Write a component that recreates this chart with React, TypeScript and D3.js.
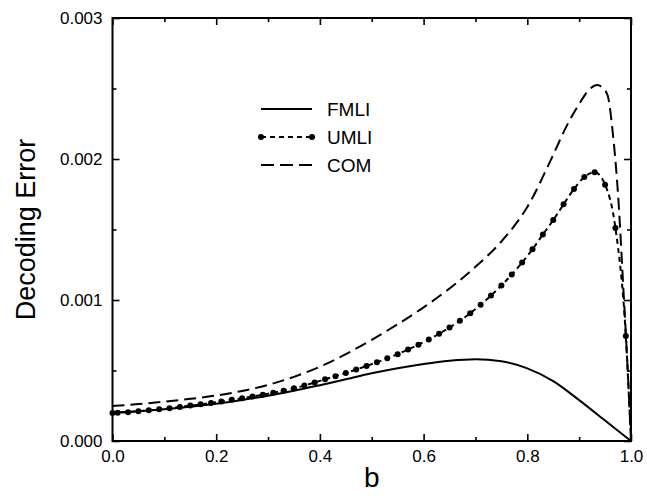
import React, { useEffect, useRef } from 'react';
import * as d3 from 'd3';

// values
const fmliB = [0, 0.05, 0.1, 0.15, 0.2, 0.25, 0.3, 0.35, 0.4, 0.45, 0.5, 0.55, 0.6, 0.65, 0.7, 0.75, 0.8, 0.85, 0.9, 0.95, 1.0];
const fmliErr = [0.000200, 0.000211, 0.000225, 0.000243, 0.000265, 0.000291, 0.000321, 0.000356, 0.000396, 0.000438, 0.000480, 0.000516, 0.000546, 0.000569, 0.000580, 0.000565, 0.000515, 0.000425, 0.000290, 0.000145, 0];

const umliB = [0, 0.01, 0.03, 0.05, 0.07, 0.09, 0.11, 0.13, 0.15, 0.17, 0.19, 0.21, 0.23, 0.25, 0.27, 0.29, 0.31, 0.33, 0.35, 0.37, 0.39, 0.41, 0.43, 0.45, 0.47, 0.49, 0.51, 0.53, 0.55, 0.57, 0.59, 0.61, 0.63, 0.65, 0.67, 0.69, 0.71, 0.73, 0.75, 0.77, 0.79, 0.81, 0.83, 0.85, 0.87, 0.89, 0.91, 0.93, 0.95, 0.97, 0.99, 1.0];
const umliErr = [0.000198, 0.000200, 0.000204, 0.000211, 0.000218, 0.000225, 0.000233, 0.000242, 0.000251, 0.000260, 0.000270, 0.000281, 0.000292, 0.000303, 0.000315, 0.000328, 0.000342, 0.000357, 0.000374, 0.000393, 0.000415, 0.000438, 0.000460, 0.000483, 0.000507, 0.000532, 0.000558, 0.000586, 0.000616, 0.000649, 0.000683, 0.000719, 0.000760, 0.000805, 0.000853, 0.000906, 0.000966, 0.001032, 0.001102, 0.001180, 0.001266, 0.001360, 0.001464, 0.001567, 0.001679, 0.001787, 0.001872, 0.001906, 0.001818, 0.001510, 0.000745, 0];

const comB = [0, 0.05, 0.1, 0.15, 0.2, 0.25, 0.3, 0.35, 0.4, 0.45, 0.5, 0.55, 0.6, 0.65, 0.7, 0.75, 0.8, 0.85, 0.875, 0.9, 0.92, 0.935, 0.945, 0.955, 0.965, 0.975, 0.985, 0.993, 1.0];
const comErr = [0.000248, 0.000262, 0.000279, 0.000299, 0.000323, 0.000355, 0.000398, 0.000455, 0.000527, 0.000616, 0.000718, 0.000828, 0.000948, 0.001082, 0.001235, 0.001415, 0.001660, 0.002030, 0.002228, 0.002390, 0.002495, 0.002525, 0.002505, 0.002450, 0.002180, 0.001750, 0.001100, 0.000550, 0];

const xMajor = [0, 0.2, 0.4, 0.6, 0.8, 1.0];
const xMinor = [0.1, 0.3, 0.5, 0.7, 0.9];
const yMajor = [0, 0.001, 0.002, 0.003];
const yMinor = [0.0005, 0.0015, 0.0025];

const legendNames = ['FMLI', 'UMLI', 'COM'];

const W = 647;
const H = 496;
const margin = { left: 112.5, right: 16, top: 18, bottom: 55 };
const FONT = '"Liberation Sans", Arial, Helvetica, sans-serif';

const App = () => {
  const svgRef = useRef(null);

  useEffect(() => {
    const svg = d3.select(svgRef.current);
    svg.selectAll('*').remove();

    const x = d3.scaleLinear().domain([0, 1]).range([margin.left, W - margin.right]);
    const y = d3.scaleLinear().domain([0, 0.003]).range([H - margin.bottom, margin.top]);
    const [x0, x1] = x.range();
    const [y0, y1] = y.range();

    const styleAxis = (g) => {
      g.select('.domain').remove();
      g.selectAll('line').attr('stroke', '#000').attr('stroke-width', 1.6);
      g.selectAll('text').attr('font-family', FONT).attr('font-size', 17).attr('fill', '#000');
    };

    // bottom
    svg.append('g').attr('transform', `translate(0,${y0})`)
      .call(d3.axisBottom(x).tickValues(xMajor).tickSize(-7).tickPadding(9).tickFormat(d3.format('.1f')))
      .call(styleAxis);
    svg.append('g').attr('transform', `translate(0,${y0})`)
      .call(d3.axisBottom(x).tickValues(xMinor).tickSize(-4).tickFormat(() => ''))
      .call(styleAxis);
    // top
    svg.append('g').attr('transform', `translate(0,${y1})`)
      .call(d3.axisTop(x).tickValues(xMajor).tickSize(-7).tickFormat(() => ''))
      .call(styleAxis);
    svg.append('g').attr('transform', `translate(0,${y1})`)
      .call(d3.axisTop(x).tickValues(xMinor).tickSize(-4).tickFormat(() => ''))
      .call(styleAxis);
    // left
    svg.append('g').attr('transform', `translate(${x0},0)`)
      .call(d3.axisLeft(y).tickValues(yMajor).tickSize(-7).tickPadding(10).tickFormat(d3.format('.3f')))
      .call(styleAxis);
    svg.append('g').attr('transform', `translate(${x0},0)`)
      .call(d3.axisLeft(y).tickValues(yMinor).tickSize(-4).tickFormat(() => ''))
      .call(styleAxis);
    // right
    svg.append('g').attr('transform', `translate(${x1},0)`)
      .call(d3.axisRight(y).tickValues(yMajor).tickSize(-7).tickFormat(() => ''))
      .call(styleAxis);
    svg.append('g').attr('transform', `translate(${x1},0)`)
      .call(d3.axisRight(y).tickValues(yMinor).tickSize(-4).tickFormat(() => ''))
      .call(styleAxis);

    // frame
    svg.append('rect')
      .attr('x', x0).attr('y', y1)
      .attr('width', x1 - x0).attr('height', y0 - y1)
      .attr('fill', 'none').attr('stroke', '#000').attr('stroke-width', 2);

    const line = d3.line()
      .x(d => x(d[0]))
      .y(d => y(d[1]))
      .curve(d3.curveMonotoneX);

    const fmli = fmliB.map((b, i) => [b, fmliErr[i]]);
    const umli = umliB.map((b, i) => [b, umliErr[i]]);
    const com = comB.map((b, i) => [b, comErr[i]]);

    svg.append('path').datum(fmli)
      .attr('d', line).attr('fill', 'none').attr('stroke', '#000').attr('stroke-width', 2);

    svg.append('path').datum(com)
      .attr('d', line).attr('fill', 'none').attr('stroke', '#000').attr('stroke-width', 2)
      .attr('stroke-dasharray', '12,6');

    svg.append('path').datum(umli)
      .attr('d', line).attr('fill', 'none').attr('stroke', '#000').attr('stroke-width', 2)
      .attr('stroke-dasharray', '5,4');

    svg.selectAll('.dot')
      .data(umli.filter(d => d[1] > 0))
      .enter().append('circle')
      .attr('class', 'dot')
      .attr('cx', d => x(d[0]))
      .attr('cy', d => y(d[1]))
      .attr('r', 3)
      .attr('fill', '#000');

    // legend
    const lg = svg.append('g').attr('transform', 'translate(261,109)');
    const dashes = [null, '5,4', '13,6'];
    legendNames.forEach((name, i) => {
      const ly = i * 28;
      lg.append('line')
        .attr('x1', 0).attr('x2', 51).attr('y1', ly).attr('y2', ly)
        .attr('stroke', '#000').attr('stroke-width', 2)
        .attr('stroke-dasharray', dashes[i]);
      if (name === 'UMLI') {
        lg.append('circle').attr('cx', 0).attr('cy', ly).attr('r', 3).attr('fill', '#000');
        lg.append('circle').attr('cx', 51).attr('cy', ly).attr('r', 3).attr('fill', '#000');
      }
      lg.append('text')
        .attr('x', 66).attr('y', ly + 6.5)
        .attr('font-family', FONT).attr('font-size', 19)
        .text(name);
    });

    // axis titles
    svg.append('text')
      .attr('x', (x0 + x1) / 2).attr('y', 487)
      .attr('text-anchor', 'middle')
      .attr('font-family', FONT).attr('font-size', 28)
      .text('b');

    svg.append('text')
      .attr('transform', `translate(35,${(y0 + y1) / 2}) rotate(-90)`)
      .attr('text-anchor', 'middle')
      .attr('font-family', FONT).attr('font-size', 27)
      .text('Decoding Error');
  }, []);

  return (
    <svg ref={svgRef} width={W} height={H}
      style={{ position: 'absolute', left: 0, top: 0, background: '#fff' }} />
  );
};

export default App;
